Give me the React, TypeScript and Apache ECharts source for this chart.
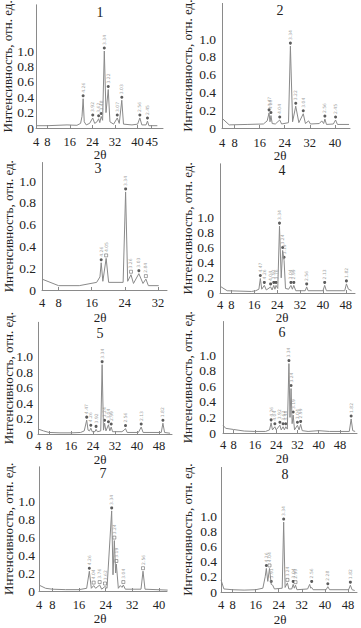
import React, { useEffect, useRef } from "react";
import * as echarts from "echarts";

// ---- data: traces [2θ, relative intensity] ----
const trace1: [number, number][] = [
  [4, 0.03], [8, 0.03], [15, 0.04], [18.5, 0.035], [19.8, 0.06], [20.3, 0.15], [20.7, 0.38], [21.1, 0.08],
  [21.8, 0.04], [23, 0.06], [24.1, 0.13], [24.8, 0.06], [25.6, 0.08], [26.2, 0.12], [26.6, 0.07], [27.1, 0.15],
  [27.6, 0.1], [28.2, 1.0], [28.8, 0.2], [29.6, 0.5], [30.2, 0.08], [31.5, 0.05], [32.8, 0.13], [33.5, 0.06],
  [34.4, 0.36], [35, 0.05], [38, 0.04], [40, 0.05], [40.8, 0.13], [41.5, 0.04], [43, 0.04], [43.5, 0.09],
  [44, 0.03], [47, 0.03],
];
const trace2: [number, number][] = [
  [4, 0.11], [6.3, 0.035], [12, 0.04], [17.2, 0.045], [18.4, 0.08], [19.0, 0.17], [19.3, 0.07], [19.6, 0.14],
  [20.0, 0.05], [21, 0.045], [22.4, 0.09], [23, 0.045], [25.2, 0.06], [25.8, 0.92], [26.5, 0.07], [27.5, 0.245],
  [28.5, 0.06], [29.9, 0.16], [30.6, 0.05], [31.6, 0.08], [32.2, 0.045], [35, 0.05], [35.8, 0.08], [36.4, 0.05],
  [36.8, 0.1], [37.3, 0.04], [39.5, 0.045], [40.2, 0.09], [40.8, 0.04], [44.5, 0.04],
];
const trace3: [number, number][] = [
  [4, 0.1], [8, 0.04], [13, 0.04], [17.2, 0.07], [18.0, 0.12], [18.3, 0.25], [18.7, 0.08], [19.5, 0.29],
  [20.1, 0.07], [23.6, 0.07], [24.2, 0.9], [24.7, 0.08], [25.5, 0.14], [26.1, 0.06], [27.4, 0.15], [28.4, 0.06],
  [29.1, 0.1], [29.7, 0.04], [32.2, 0.04],
];
const trace4: [number, number][] = [
  [4, 0.09], [6.5, 0.03], [15, 0.02], [16.5, 0.03], [17.6, 0.05], [18.1, 0.19], [18.6, 0.05], [19.5, 0.1],
  [20.2, 0.04], [21.7, 0.08], [22.2, 0.04], [22.8, 0.1], [23.2, 0.05], [23.6, 0.1], [24.2, 0.06], [24.8, 0.88],
  [25.4, 0.2], [25.9, 0.56], [26.4, 0.43], [26.9, 0.06], [28.0, 0.05], [28.8, 0.1], [29.3, 0.05], [29.8, 0.1],
  [30.5, 0.03], [33.8, 0.03], [34.3, 0.08], [34.8, 0.03], [40.0, 0.03], [40.6, 0.1], [41.2, 0.03], [47.6, 0.03],
  [48.2, 0.12], [48.9, 0.05], [50, 0.03],
];
const trace5: [number, number][] = [
  [4, 0.065], [6, 0.04], [8, 0.02], [12, 0.015], [16, 0.015], [19.5, 0.02], [20.8, 0.04], [21.7, 0.18],
  [22.2, 0.05], [22.7, 0.04], [23.2, 0.075], [23.7, 0.03], [24.7, 0.03], [25.1, 0.06], [25.6, 0.03], [26.8, 0.04],
  [27.3, 0.9], [27.8, 0.05], [28.2, 0.14], [28.7, 0.04], [29.6, 0.12], [30.1, 0.04], [30.6, 0.09], [31.1, 0.03],
  [34.5, 0.03], [35.3, 0.05], [35.8, 0.07], [36.4, 0.02], [40.5, 0.02], [41.5, 0.09], [42.2, 0.02], [48.8, 0.02],
  [49.4, 0.14], [50, 0.02], [52, 0.01],
];
const trace6: [number, number][] = [
  [4, 0.1], [5, 0.06], [8, 0.045], [12, 0.025], [16, 0.02], [20, 0.02], [21.5, 0.04], [22.1, 0.13], [22.6, 0.04],
  [23.5, 0.08], [24.0, 0.04], [25.4, 0.1], [25.9, 0.04], [26.6, 0.08], [27.1, 0.04], [27.6, 0.08], [28.2, 0.05],
  [28.8, 0.89], [29.2, 0.2], [29.6, 0.57], [30.0, 0.12], [30.4, 0.23], [30.9, 0.04], [32, 0.1], [32.6, 0.04],
  [33.2, 0.11], [33.8, 0.03], [36, 0.02], [40, 0.03], [44, 0.02], [51.5, 0.02], [52.2, 0.18], [52.8, 0.03],
  [53.7, 0.02],
];
const trace7: [number, number][] = [
  [4, 0.066], [6, 0.03], [8, 0.02], [12, 0.015], [16, 0.015], [18.3, 0.03], [19.1, 0.22], [19.7, 0.03],
  [20.4, 0.06], [21, 0.03], [22.2, 0.066], [22.8, 0.02], [23.8, 0.05], [24.4, 0.03], [25.8, 0.89], [26.2, 0.18],
  [26.6, 0.56], [27.0, 0.2], [27.2, 0.3], [27.8, 0.03], [28.4, 0.06], [28.9, 0.04], [29.3, 0.066], [29.9, 0.02],
  [34.6, 0.02], [35.2, 0.22], [35.8, 0.02], [42.6, 0.01],
];
const trace8: [number, number][] = [
  [4, 0.16], [5, 0.04], [8, 0.03], [12, 0.025], [16, 0.03], [18.5, 0.05], [19.3, 0.2], [19.7, 0.31], [20.2, 0.14],
  [20.8, 0.31], [21.4, 0.1], [21.9, 0.09], [22.5, 0.04], [25.2, 0.05], [25.7, 0.92], [26.2, 0.06], [27.0, 0.12],
  [27.5, 0.04], [28.5, 0.04], [29.0, 0.1], [29.4, 0.05], [29.8, 0.09], [30.3, 0.03], [34.0, 0.04], [34.7, 0.1],
  [35.1, 0.05], [35.4, 0.06], [35.9, 0.03], [40.4, 0.03], [41.0, 0.07], [41.6, 0.03], [48.2, 0.03], [48.8, 0.09],
  [49.4, 0.03], [50.3, 0.02],
];

// ---- peak annotations: [2θ, intensity, d-spacing label, marker: c = ●, s = □] ----
type Peak = [number, number, string, string];
const peaks1: Peak[] = [
  [20.7, 0.38, "4.26", "c"], [24.1, 0.13, "3.92", "c"], [26.2, 0.12, "3.62", "c"], [27.1, 0.15, "3.48", "c"],
  [28.2, 1.0, "3.34", "c"], [29.6, 0.5, "3.22", "c"], [32.8, 0.13, "3.07", "c"], [34.4, 0.36, "3.03", "c"],
  [40.8, 0.13, "2.56", "c"], [43.5, 0.09, "2.45", "c"],
];
const peaks2: Peak[] = [
  [19.0, 0.17, "4.47", "c"], [19.6, 0.14, "4.26", "c"], [22.4, 0.09, "4.04", "c"], [25.8, 0.92, "3.34", "c"],
  [27.5, 0.245, "3.22", "c"], [29.9, 0.16, "3.04", "c"], [36.8, 0.1, "2.56", "c"], [40.2, 0.09, "2.45", "c"],
];
const peaks3: Peak[] = [
  [18.3, 0.25, "4.26", "c"], [19.5, 0.29, "4.05", "s"], [24.2, 0.9, "3.34", "c"], [25.5, 0.14, "3.26", "s"],
  [27.4, 0.15, "3.03", "c"], [29.1, 0.1, "2.84", "s"],
];
const peaks4: Peak[] = [
  [18.1, 0.19, "4.47", "c"], [19.5, 0.1, "4.26", "c"], [21.7, 0.08, "4.04", "c"], [22.8, 0.1, "3.92", "c"],
  [23.6, 0.1, "3.76", "c"], [24.8, 0.88, "3.34", "c"], [25.9, 0.56, "3.24", "c"], [26.4, 0.43, "3.19", "c"],
  [28.8, 0.1, "3.04", "c"], [29.8, 0.1, "2.99", "c"], [34.3, 0.08, "2.56", "c"], [40.6, 0.1, "2.13", "c"],
  [48.2, 0.12, "1.82", "c"],
];
const peaks5: Peak[] = [
  [21.7, 0.18, "4.47", "c"], [23.2, 0.075, "4.26", "c"], [25.1, 0.06, "3.92", "c"], [27.3, 0.9, "3.34", "c"],
  [28.2, 0.14, "3.24", "c"], [29.6, 0.12, "3.04", "c"], [30.6, 0.09, "2.99", "c"], [35.8, 0.07, "2.56", "c"],
  [41.5, 0.09, "2.13", "c"], [49.4, 0.14, "1.82", "c"],
];
const peaks6: Peak[] = [
  [22.1, 0.13, "4.26", "c"], [23.5, 0.08, "4.04", "c"], [25.4, 0.1, "3.92", "c"], [26.6, 0.08, "3.62", "c"],
  [27.6, 0.08, "3.48", "c"], [28.8, 0.89, "3.34", "c"], [29.6, 0.57, "3.24", "c"], [30.4, 0.23, "3.19", "c"],
  [32, 0.1, "3.04", "c"], [33.2, 0.11, "2.99", "c"], [52.2, 0.18, "1.82", "c"],
];
const peaks7: Peak[] = [
  [19.1, 0.22, "4.26", "c"], [20.4, 0.06, "4.04", "s"], [22.2, 0.066, "3.76", "s"], [23.8, 0.05, "3.62", "s"],
  [25.8, 0.89, "3.34", "c"], [26.6, 0.56, "3.24", "s"], [27.2, 0.3, "3.19", "s"], [29.3, 0.066, "3.04", "s"],
  [35.2, 0.22, "2.56", "s"],
];
const peaks8: Peak[] = [
  [19.7, 0.31, "4.26", "c"], [20.8, 0.31, "4.04", "s"], [21.4, 0.1, "3.91", "c"], [25.7, 0.92, "3.34", "c"],
  [27.0, 0.12, "3.24", "s"], [29.0, 0.1, "3.04", "c"], [29.8, 0.09, "2.99", "s"], [35.4, 0.1, "2.56", "c"],
  [41.0, 0.07, "2.28", "c"], [48.8, 0.09, "1.82", "c"],
];

// ---- tick labels ----
const xTicks1 = [4, 8, 16, 24, 32, 40, 45];
const xTicks2 = [4, 8, 16, 24, 32, 40];
const xTicks3 = [4, 8, 16, 24, 32];
const xTicks4 = [4, 8, 16, 24, 32, 40, 48];
const xTicks5 = [4, 8, 16, 24, 32, 40, 48];
const xTicks6 = [4, 8, 16, 24, 32, 40, 48];
const xTicks7 = [4, 8, 16, 24, 32, 40];
const xTicks8 = [4, 8, 16, 24, 32, 40, 48];
const panelNames = ["1", "2", "3", "4", "5", "6", "7", "8"];
const yTitle = "Интенсивность, отн. ед.";
const xTitle = "2θ";

const traces = [trace1, trace2, trace3, trace4, trace5, trace6, trace7, trace8];
const peaks = [peaks1, peaks2, peaks3, peaks4, peaks5, peaks6, peaks7, peaks8];
const xTicks = [xTicks1, xTicks2, xTicks3, xTicks4, xTicks5, xTicks6, xTicks7, xTicks8];

// ---- layout (px) ----
const layouts = [
  { left: 36, width: 127, top: 4.8, height: 123.2, xmax: 49, ymax: 1.6, tx: 7.5, xm: 7, ym: 2, num: [100, 12], th: [100, 154] },
  { left: 222, width: 128, top: 3.4, height: 124.6, xmax: 44.8, ymax: 1.4, tx: 187, xm: 8, ym: 6, num: [280, 10], th: [280, 155.5] },
  { left: 42, width: 125, top: 162.5, height: 127.5, xmax: 34.2, ymax: 1.17, tx: 8, xm: 6, ym: 6, num: [98, 168.5], th: [100, 317] },
  { left: 220, width: 135, top: 163.8, height: 129.2, xmax: 51.2, ymax: 1.7, tx: 187, xm: 5, ym: 6, num: [282, 170.5], th: [282, 317.5] },
  { left: 38, width: 134, top: 322.3, height: 111.7, xmax: 52.7, ymax: 1.45, tx: 8, xm: 5, ym: 5, num: [100, 333], th: [100, 459] },
  { left: 223, width: 134, top: 321.5, height: 111.5, xmax: 54.4, ymax: 1.43, tx: 187, xm: 5, ym: 7, num: [282, 332], th: [282, 458] },
  { left: 39, width: 128, top: 466.8, height: 124.2, xmax: 42.4, ymax: 1.38, tx: 8, xm: 7, ym: 4, num: [103, 473], th: [100, 618] },
  { left: 221, width: 136, top: 467.4, height: 124.6, xmax: 51.1, ymax: 1.64, tx: 187, xm: 6, ym: 4, num: [285, 474], th: [280, 619] },
];

const FONT = '"Liberation Serif", "Times New Roman", serif';
const TEXT = "#222";
const LINE = "#8a8a8a";

function buildOption() {
  const grid: any[] = [];
  const xAxis: any[] = [];
  const yAxis: any[] = [];
  const series: any[] = [];
  const graphic: any[] = [];
  layouts.forEach((L, i) => {
    grid.push({ left: L.left, top: L.top, width: L.width, height: L.height, containLabel: false, outerBoundsMode: "none" });
    xAxis.push({
      type: "value",
      gridIndex: i,
      min: 4,
      max: L.xmax,
      axisLine: { show: true, lineStyle: { color: LINE, width: 1 } },
      axisTick: { show: true, inside: true, length: 3, customValues: xTicks[i], lineStyle: { color: LINE } },
      axisLabel: { customValues: xTicks[i], margin: L.xm, fontFamily: FONT, fontSize: 12.5, color: TEXT },
      splitLine: { show: false },
    });
    yAxis.push({
      type: "value",
      gridIndex: i,
      min: 0,
      max: L.ymax,
      interval: 0.2,
      axisLine: { show: true, lineStyle: { color: LINE, width: 1 } },
      axisTick: { show: false },
      axisLabel: {
        margin: L.ym,
        fontFamily: FONT,
        fontSize: 13.5,
        color: TEXT,
        showMaxLabel: false,
        formatter: (v: number) => (v > 1.0001 ? "" : v === 0 ? "0" : v.toFixed(1)),
      },
      splitLine: { show: false },
    });
    series.push({
      type: "line",
      xAxisIndex: i,
      yAxisIndex: i,
      data: traces[i],
      showSymbol: false,
      symbol: "none",
      lineStyle: { color: LINE, width: 1 },
      silent: true,
    });
    series.push({
      type: "scatter",
      xAxisIndex: i,
      yAxisIndex: i,
      symbolSize: 3,
      symbolOffset: [0, -3],
      data: peaks[i].map((p) => ({
        value: [p[0], p[1]],
        name: p[2],
        symbol: p[3] === "s" ? "rect" : "circle",
        itemStyle: p[3] === "s"
          ? { color: "#fff", borderColor: "#444", borderWidth: 0.6 }
          : { color: "#333", borderWidth: 0 },
      })),
      label: {
        show: true,
        formatter: "{b}",
        position: "top",
        rotate: 90,
        align: "left",
        verticalAlign: "middle",
        distance: 1.5,
        fontSize: 4.5,
        fontFamily: "DejaVu Sans, sans-serif",
        color: "#888",
      },
      silent: true,
    });
    graphic.push({
      type: "text",
      x: L.tx,
      y: L.top + L.height / 2,
      rotation: Math.PI / 2,
      style: { text: yTitle, font: `13px ${FONT}`, fill: TEXT, textAlign: "center", textVerticalAlign: "middle" },
      silent: true,
    });
    graphic.push({
      type: "text",
      x: L.num[0],
      y: L.num[1],
      style: { text: panelNames[i], font: `14px ${FONT}`, fill: TEXT, textAlign: "center", textVerticalAlign: "middle" },
      silent: true,
    });
    graphic.push({
      type: "text",
      x: L.th[0],
      y: L.th[1],
      style: { text: xTitle, font: `13px ${FONT}`, fill: TEXT, textAlign: "center", textVerticalAlign: "middle" },
      silent: true,
    });
  });
  return {
    animation: false,
    backgroundColor: "#fff",
    grid,
    xAxis,
    yAxis,
    series,
    graphic,
  };
}

export default function App() {
  const ref = useRef<HTMLDivElement>(null);
  useEffect(() => {
    if (!ref.current) return;
    const chart = echarts.init(ref.current, null, { renderer: "svg" });
    chart.setOption(buildOption() as any);
    return () => chart.dispose();
  }, []);
  return (
    <div
      ref={ref}
      style={{ position: "fixed", left: 0, top: 0, width: 361, height: 628, background: "#fff" }}
    />
  );
}
